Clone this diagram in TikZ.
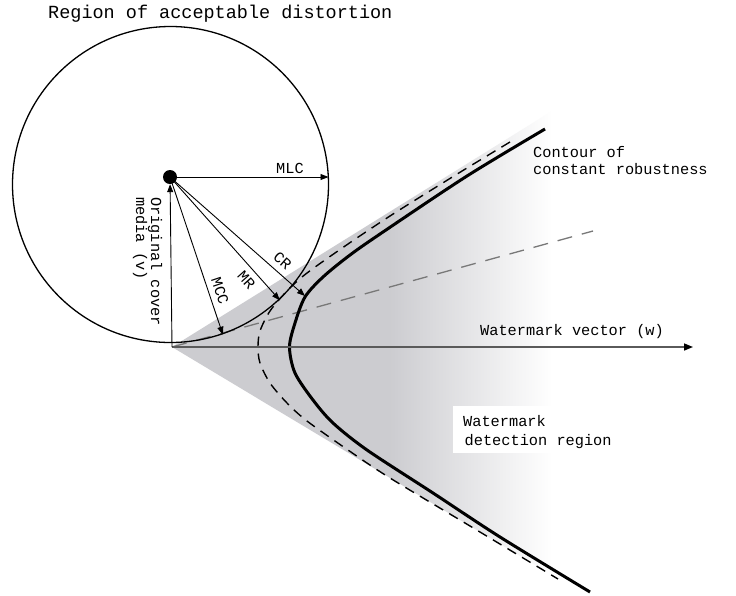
\documentclass[tikz,border=0pt]{standalone}
\usepackage{fontspec}
\newfontfamily\cour{Liberation Mono}
\usetikzlibrary{arrows.meta}
\definecolor{conegray}{RGB}{204,204,208}
\definecolor{vecgray}{RGB}{90,90,90}
\definecolor{dashgray}{RGB}{120,120,120}
\pgfdeclarehorizontalshading{coneshade}{100bp}{color(0bp)=(conegray); color(25bp)=(conegray); color(53bp)=(conegray); color(74bp)=(white); color(100bp)=(white)}
\begin{document}
\begin{tikzpicture}[x=1pt,y=-1pt,
  tipa/.style={-{Triangle[length=8pt,width=6pt]}},
  thinarrow/.style={line width=0.9pt, tipa},
  lbl/.style={font=\cour\fontsize{15.3}{18}\selectfont, inner sep=0pt},
  titlelbl/.style={font=\cour\fontsize{18.5}{22}\selectfont, inner sep=0pt},
  blackdash/.style={line width=1.4pt, dash pattern=on 10pt off 7pt},
  graydash/.style={line width=1.3pt, dashgray, dash pattern=on 15pt off 10pt},
  contour/.style={line width=3pt},
  vec/.style={line width=1.5pt, vecgray, -{Triangle[length=9pt,width=7pt,color=black]}},
  ]
\useasboundingbox (0,0) rectangle (736,595);
\fill[white] (0,0) rectangle (736,595);

% shaded detection cone
\shade[shading=coneshade] (172,347) -- (560,106) -- (560,580) -- cycle;

\coordinate (O) at (172,347);
\coordinate (gEnd) at (593,231);
\coordinate (wEnd) at (693,347);
\coordinate (mlcEnd) at (328.5,177);
\coordinate (mccEnd) at (222.9,334.7);
\coordinate (mrEnd) at (279.8,300.2);
\coordinate (crEnd) at (305,296);

% gray dashed line
\draw[graydash] (O) -- (gEnd);

% dashed contour
\draw[blackdash] plot[smooth, tension=0.5] coordinates {
 (510,142) (467,168) (433,189) (390,216) (348,244) (307,273) (287,291) (270,311) (260,331) (258,347)
 (260,363) (270,383) (287,403) (307,421) (348,450) (390,478) (470,526) (558,579)};

% solid contour of constant robustness
\draw[contour] plot[smooth, tension=0.5] coordinates {
 (545,129) (467,176) (383,232) (350,255) (323,277) (305,297) (295,323) (289.5,347)
 (295,373) (313,400) (333,423) (367,450) (433,493) (500,537) (590,592)};

% watermark vector
\draw[vec] (O) -- (wEnd);

% region of acceptable distortion
\draw[line width=1.3pt] (170.5,184.5) circle (158pt);

% original cover media
\node[circle, fill=black, inner sep=0pt, minimum size=14pt] (D) at (170,177) {};
\draw[thinarrow] (O) -- (D);
\draw[thinarrow] (D.center) -- (mlcEnd);
\draw[thinarrow] (D.center) -- (mccEnd);
\draw[thinarrow] (D.center) -- (mrEnd);
\draw[thinarrow] (D.center) -- (crEnd);

% labels
\node[titlelbl, anchor=base west] (title) at (48,18.3) {Region of acceptable distortion};
\node[lbl, anchor=base] (mlc) at (290,173.3) {MLC};
\node[lbl, rotate=-41.4] (cr) at (282.5,260.5) {CR};
\node[lbl, rotate=-48.3] (mr) at (246.5,280) {MR};
\node[lbl, rotate=-71.5] (mcc) at (220,291) {MCC};
\node[lbl, rotate=-90, anchor=west] (orig1) at (155,197) {Original cover};
\node[lbl, rotate=-90, anchor=west] (orig2) at (140,197) {media (v)};
\node[lbl, anchor=base west] (cont1) at (533,157) {Contour of};
\node[lbl, anchor=base west] (cont2) at (533,174.5) {constant robustness};
\node[lbl, anchor=base west] (wv) at (480,335) {Watermark vector (w)};
\node[fill=white, inner sep=0pt, minimum width=170pt, minimum height=47pt, anchor=north west] (detbox) at (453,406) {};
\node[lbl, anchor=base west] (det1) at (463,426) {Watermark};
\node[lbl, anchor=base west] (det2) at (464.5,445) {detection region};
\end{tikzpicture}
\end{document}
